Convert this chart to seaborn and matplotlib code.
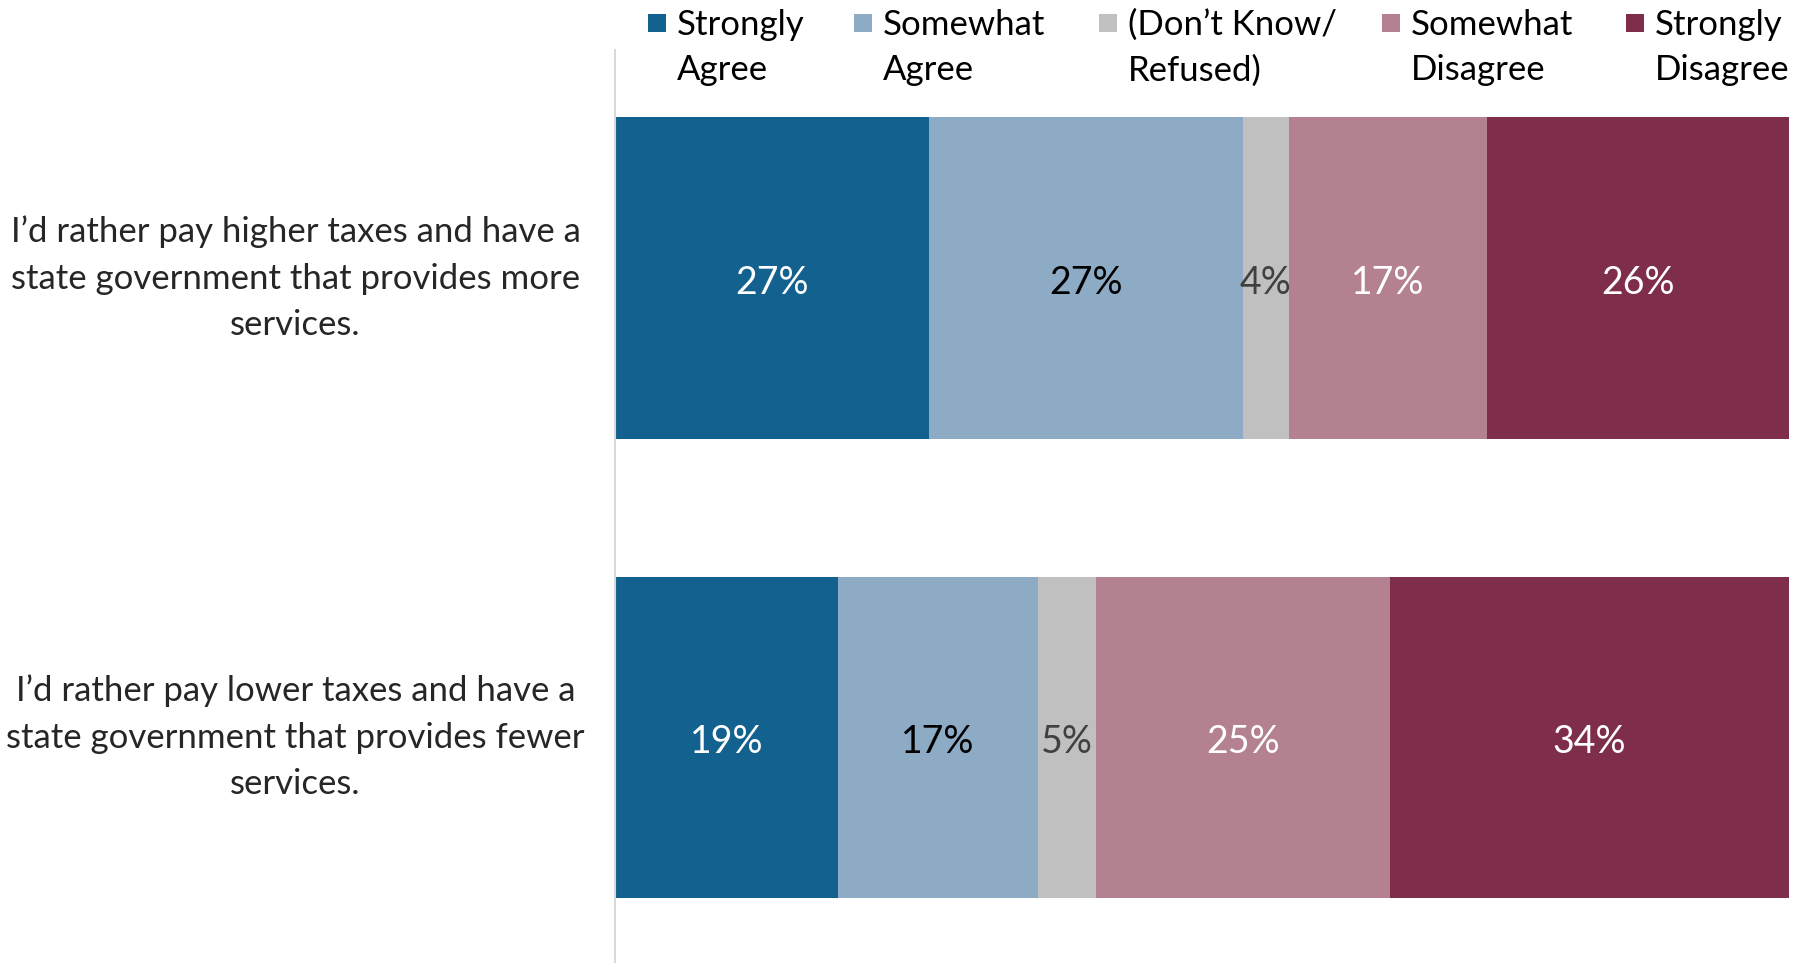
import matplotlib
matplotlib.use("Agg")
import matplotlib.pyplot as plt
import seaborn as sns
import pandas as pd
from matplotlib.patches import Rectangle

# ---------------- data ----------------
questions = [
    "I’d rather pay higher taxes and have a\nstate government that provides more\nservices.",
    "I’d rather pay lower taxes and have a\nstate government that provides fewer\nservices.",
]
responses = ["Strongly\nAgree", "Somewhat\nAgree", "(Don’t Know/\nRefused)",
             "Somewhat\nDisagree", "Strongly\nDisagree"]
strongly_agree = [27, 19]
somewhat_agree = [27, 17]
dont_know = [4, 5]
somewhat_disagree = [17, 25]
strongly_disagree = [26, 34]

colors = ["#13618F", "#8EABC6", "#C0C0C0", "#B3818F", "#7E2D4A"]
label_colors = ["white", "black", "#404040", "white", "white"]

series = [strongly_agree, somewhat_agree, dont_know, somewhat_disagree, strongly_disagree]

# long-form table, normalised to 100% per question (100% stacked bar)
rows = []
for qi, q in enumerate(questions):
    total = sum(s[qi] for s in series)
    cum = 0.0
    for ri, r in enumerate(responses):
        share = series[ri][qi] / total * 100
        rows.append(dict(question=q, response=r, value=series[ri][qi],
                         left=cum, right=cum + share))
        cum += share
df = pd.DataFrame(rows)

# ---------------- style ----------------
sns.set_theme(style="white")
plt.rcParams["font.family"] = ["Lato", "DejaVu Sans"]

W, H = 1804, 963
fig = plt.figure(figsize=(W / 100, H / 100), dpi=100)
ax = fig.add_axes([615 / W, 0, (1789 - 615) / W, (963 - 50) / H])

# stacked bars: draw cumulative totals from the last segment to the first
for ri in reversed(range(len(responses))):
    sub = df[df["response"] == responses[ri]]
    sns.barplot(data=sub, x="right", y="question", order=questions, orient="h",
                color=colors[ri], saturation=1, width=0.70, errorbar=None,
                linewidth=0, ax=ax)

# value labels
for _, row in df.iterrows():
    ri = responses.index(row["response"])
    qi = questions.index(row["question"])
    ax.text((row["left"] + row["right"]) / 2, qi + 0.01, f"{row['value']}%",
            ha="center", va="center", fontsize=27, color=label_colors[ri])

ax.set_xlim(0, 100)
ax.set_ylim(1.492, -0.497)
ax.set_xlabel("")
ax.set_ylabel("")
ax.set_xticks([])
ax.set_yticks(range(len(questions)), labels=questions)
ax.tick_params(axis="y", length=0, pad=230, labelsize=25)
for lab in ax.get_yticklabels():
    lab.set_horizontalalignment("center")
    lab.set_verticalalignment("center")
    lab.set_multialignment("center")
    lab.set_linespacing(1.54)

for s in ["top", "right", "bottom"]:
    ax.spines[s].set_visible(False)
ax.spines["left"].set_color("#D9D9D9")
ax.spines["left"].set_linewidth(1.5)

# legend across the top (square marker aligned with first line)
sq_left = [648, 854, 1099, 1382, 1626]
sq = 18
for ri, r in enumerate(responses):
    x0 = sq_left[ri]
    fig.add_artist(Rectangle((x0 / W, 1 - (23 + sq / 2) / H), sq / W, sq / H,
                             transform=fig.transFigure, color=colors[ri], lw=0))
    fig.text((x0 + 29) / W, 1 - 9 / H, r, ha="left", va="top", fontsize=25,
             color="black", linespacing=1.5)

fig.savefig("out.png", dpi=100, facecolor="white")
